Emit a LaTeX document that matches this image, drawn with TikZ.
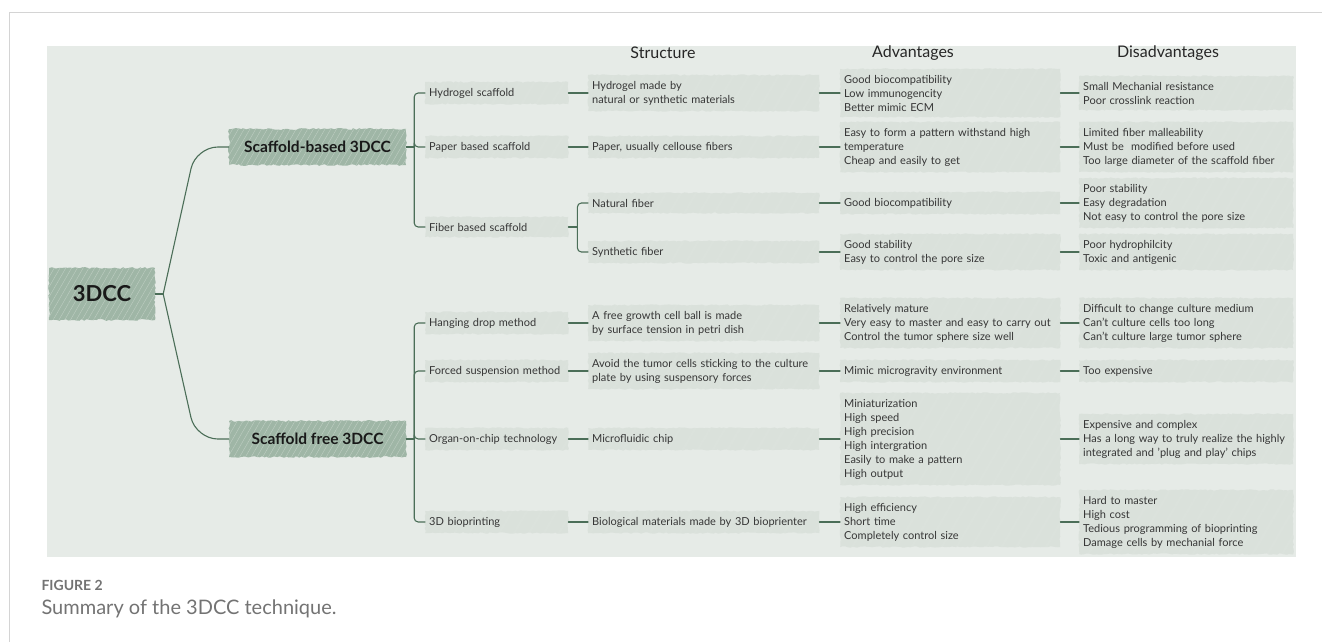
\documentclass[tikz,border=0pt]{standalone}
\usepackage{fontspec}
\setmainfont{Lato}
\usetikzlibrary{decorations.pathmorphing,patterns.meta,calc}

\definecolor{panel}{HTML}{E6EBE7}
\definecolor{leaf}{HTML}{DAE1DB}
\definecolor{knot}{HTML}{9FB6A6}
\definecolor{zweig}{HTML}{4B6E58}
\definecolor{txt}{HTML}{363636}
\definecolor{rahmen}{HTML}{D4D4D4}

\tikzset{
  leafbox/.style={fill=leaf, decorate,
    decoration={random steps,segment length=2.5pt,amplitude=.7pt},
    postaction={pattern={Lines[angle=60,distance=13pt,line width=.3pt]},pattern color=white!35!leaf},
    inner xsep=4pt, inner ysep=6pt, anchor=west, align=left, text=txt,
    font=\fontsize{11}{14}\selectfont},
  hubbox/.style={fill=knot, decorate,
    decoration={random steps,segment length=2.5pt,amplitude=.9pt},
    postaction={pattern={Lines[angle=60,distance=5pt,line width=.35pt]},pattern color=white!35!knot},
    text=black!90, font=\bfseries\fontsize{15.5}{18}\selectfont},
  branch/.style={draw=zweig, line width=1.1pt},
  head/.style={text=black!85, font=\fontsize{16}{18}\selectfont},
}

\begin{document}
\begin{tikzpicture}[x=1pt, y=-1pt, line cap=round, line join=round]

  % Rahmen und Hintergrund
  \useasboundingbox (0,0) rectangle (1322,642);
  \draw[rahmen, line width=.8pt] (9,642) -- (9,12) -- (1322,12);
  \fill[panel] (47,46) rectangle (1296,557);

  % Spaltenkoepfe
  \node[head] (hStr) at (663,53) {Structure};
  \node[head] (hAdv) at (913,53) {Advantages};
  \node[head] (hDis) at (1168,53) {Disadvantages};

  % Wurzel und Hauptaeste
  \node[hubbox, minimum width=106pt, minimum height=52pt,
        font=\bfseries\fontsize{22}{24}\selectfont] (root) at (102,294) {3DCC};
  \node[hubbox, minimum width=177pt, minimum height=36pt] (sb) at (317.5,147) {Scaffold-based 3DCC};
  \node[hubbox, minimum width=177pt, minimum height=36pt] (sfr) at (317.5,439) {Scaffold free 3DCC};

  % Zweite Ebene
  \node[leafbox, text width=135pt] (hs)  at (425,93)  {Hydrogel scaffold};
  \node[leafbox, text width=135pt] (ps)  at (425,147) {Paper based scaffold};
  \node[leafbox, text width=135pt] (fs)  at (425,227) {Fiber based scaffold};
  \node[leafbox, text width=135pt] (hd)  at (425,323) {Hanging drop method};
  \node[leafbox, text width=135pt] (fsm) at (425,371) {Forced suspension method};
  \node[leafbox, text width=135pt] (oc)  at (425,439) {Organ-on-chip technology};
  \node[leafbox, text width=135pt] (bp)  at (425,522) {3D bioprinting};

  % Struktur
  \node[leafbox, text width=223pt] (hst)  at (588,93)  {Hydrogel made by\\natural or synthetic materials};
  \node[leafbox, text width=223pt] (pst)  at (588,147) {Paper, usually cellouse fibers};
  \node[leafbox, text width=223pt] (nf)   at (588,203) {Natural fiber};
  \node[leafbox, text width=223pt] (sfb)  at (588,252) {Synthetic fiber};
  \node[leafbox, text width=223pt] (hdst) at (588,323) {A free growth cell ball is made\\by surface tension in petri dish};
  \node[leafbox, text width=223pt] (fsst) at (588,371) {Avoid the tumor cells sticking to the culture\\plate by using suspensory forces};
  \node[leafbox, text width=223pt] (ocst) at (588,439) {Microfluidic chip};
  \node[leafbox, text width=223pt] (bpst) at (588,522) {Biological materials made by 3D bioprienter};

  % Vorteile
  \node[leafbox, text width=212pt] (a1) at (840,93)  {Good biocompatibility\\Low immunogencity\\Better mimic ECM};
  \node[leafbox, text width=212pt] (a2) at (840,147) {Easy to form a pattern withstand high\\temperature\\Cheap and easily to get};
  \node[leafbox, text width=212pt] (a3) at (840,203) {Good biocompatibility};
  \node[leafbox, text width=212pt] (a4) at (840,252) {Good stability\\Easy to control the pore size};
  \node[leafbox, text width=212pt] (a5) at (840,323) {Relatively mature\\Very easy to master and easy to carry out\\Control the tumor sphere size well};
  \node[leafbox, text width=212pt] (a6) at (840,371) {Mimic microgravity environment};
  \node[leafbox, text width=212pt] (a7) at (840,439) {Miniaturization\\High speed\\High precision\\High intergration\\Easily to make a pattern\\High output};
  \node[leafbox, text width=212pt] (a8) at (840,522) {High efficiency\\Short time\\Completely control size};

  % Nachteile
  \node[leafbox, text width=206pt] (d1) at (1079,93)  {Small Mechanial resistance\\Poor crosslink reaction};
  \node[leafbox, text width=206pt] (d2) at (1079,147) {Limited fiber malleability\\Must be \ modified before used\\Too large diameter of the scaffold fiber};
  \node[leafbox, text width=206pt] (d3) at (1079,203) {Poor stability\\Easy degradation\\Not easy to control the pore size};
  \node[leafbox, text width=206pt] (d4) at (1079,252) {Poor hydrophilcity\\Toxic and antigenic};
  \node[leafbox, text width=206pt] (d5) at (1079,323) {Difficult to change culture medium\\Can't culture cells too long\\Can't culture large tumor sphere};
  \node[leafbox, text width=206pt] (d6) at (1079,371) {Too expensive};
  \node[leafbox, text width=206pt] (d7) at (1079,439) {Expensive and complex\\Has a long way to truly realize the highly\\integrated and 'plug and play' chips};
  \node[leafbox, text width=206pt] (d8) at (1079,522) {Hard to master\\High cost\\Tedious programming of bioprinting\\Damage cells by mechanial force};

  % Aeste von der Wurzel
  \coordinate (rj) at ([xshift=8pt]root.east);
  \draw[branch] (root.east) -- (rj);
  \draw[branch, rounded corners=22pt] (rj) -- ($(sb.west)+(-33,0)$) -- (sb.west);
  \draw[branch, rounded corners=22pt] (rj) -- ($(sfr.west)+(-33,0)$) -- (sfr.west);

  % Klammern der zweiten Ebene
  \coordinate (sbj) at ([xshift=8pt]sb.east);
  \coordinate (sfj) at ([xshift=8pt]sfr.east);
  \draw[branch] (sb.east) -- (sbj);
  \draw[branch] (sfr.east) -- (sfj);
  \foreach \c in {hs,ps,fs}
    \draw[branch, rounded corners=4pt] (sbj) |- (\c.west);
  \foreach \c in {hd,fsm,oc,bp}
    \draw[branch, rounded corners=4pt] (sfj) |- (\c.west);

  % Faser-Verzweigung
  \coordinate (fj) at ([xshift=9pt]fs.east);
  \draw[branch] (fs.east) -- (fj);
  \foreach \c in {nf,sfb}
    \draw[branch, rounded corners=4pt] (fj) |- (\c.west);

  % Verbindungen zwischen den Spalten
  \foreach \a/\b in {hs/hst, ps/pst, hd/hdst, fsm/fsst, oc/ocst, bp/bpst,
                     hst/a1, pst/a2, nf/a3, sfb/a4, hdst/a5, fsst/a6, ocst/a7, bpst/a8,
                     a1/d1, a2/d2, a3/d3, a4/d4, a5/d5, a6/d6, a7/d7, a8/d8}
    \draw[branch] (\a.east) -- (\b.west);

  % Bildunterschrift
  \node[anchor=base west, text=black!55, font=\bfseries\fontsize{14}{16}\selectfont] (flab) at (38,590) {FIGURE 2};
  \node[anchor=base west, text=black!55, font=\fontsize{20}{22}\selectfont] (fcap) at (38,614) {Summary of the 3DCC technique.};

\end{tikzpicture}
\end{document}
